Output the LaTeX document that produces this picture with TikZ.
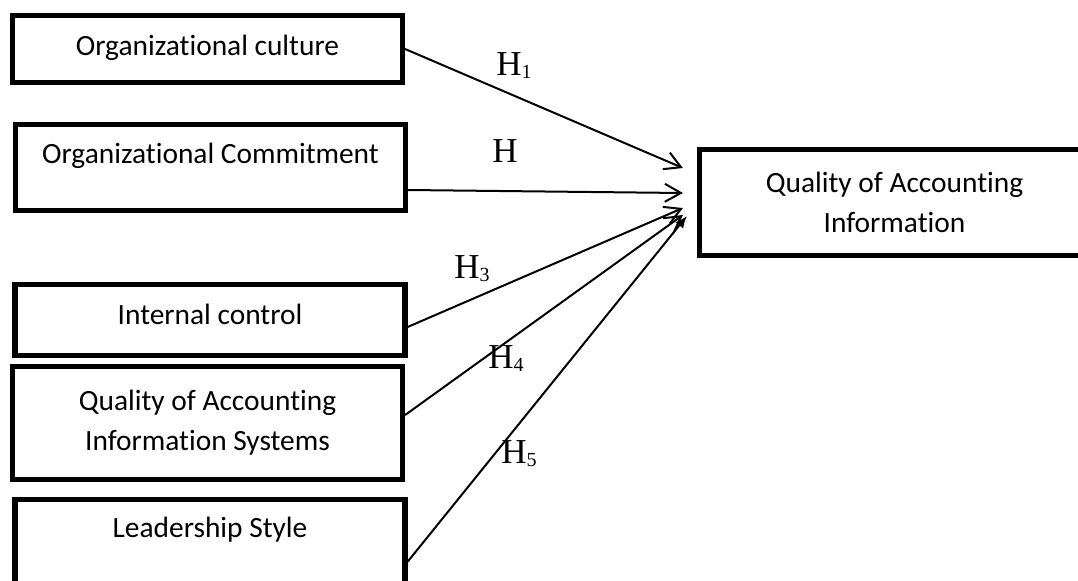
\documentclass[tikz,border=0pt]{standalone}
\usepackage{fontspec}
\setmainfont{Carlito}[Ligatures=NoCommon]
\newfontfamily\hypfont{Liberation Serif}
\usetikzlibrary{arrows.meta}
\tikzset{
  varbox/.style={draw, line width=2.6pt, minimum width=195pt, font=\fontsize{14.7}{20}\selectfont},
  onebox/.style={varbox, text height=11pt, text depth=3pt},
  twobox/.style={varbox, align=center},
  hyparrow/.style={-{Straight Barb[length=8pt, width=9pt]}, line width=1pt},
  hyparrowfill/.style={-{Latex[length=6pt, width=5pt]}, line width=1pt},
  hyplabel/.style={anchor=base west, inner sep=0pt, font=\hypfont\fontsize{17.5}{17.5}\selectfont}
}
\newcommand{\hyp}[1]{H\raisebox{-1.5pt}{\fontsize{10}{10}\selectfont #1}}

\begin{document}
\begin{tikzpicture}[x=0.5pt, y=-0.5pt]
  \clip (0,0) rectangle (1078,580);
  \fill[white] (0,0) rectangle (1078,580);
  % independent variables
  \node[onebox, minimum height=33.5pt, text depth=5pt] (culture) at (207.5,49) {Organizational culture};
  \node[onebox, minimum height=43pt, text depth=15pt] (commit) at (210.5,167.5) {Organizational Commitment};
  \node[onebox, minimum height=35.5pt, text depth=7pt] (control) at (210,320) {Internal control};
  \node[twobox, minimum height=56.5pt] (ais) at (207.5,423) {Quality of Accounting\\ Information Systems};
  \node[onebox, minimum height=60.25pt, text depth=33pt] (style) at (210,559.75) {Leadership Style};
  % dependent variable
  \node[twobox, minimum height=53pt] (quality) at (894.5,202.5) {Quality of Accounting\\ Information};
  % hypotheses
  \draw[hyparrow] (culture.east) -- ([xshift=-7pt, yshift=17.25pt]quality.west);
  \draw[hyparrow] ([yshift=-11.25pt]commit.east) -- ([xshift=-7pt, yshift=4.75pt]quality.west);
  \draw[hyparrow] ([yshift=-3.5pt]control.east) -- ([xshift=-7pt, yshift=-2.75pt]quality.west);
  \draw[hyparrow] ([yshift=4pt]ais.east) -- ([xshift=-7pt, yshift=-6.25pt]quality.west);
  \draw[hyparrowfill] ([yshift=-1pt]style.east) -- ([xshift=-5pt, yshift=-6.75pt]quality.west);
  \node[hyplabel] (h1) at (496,75) {\hyp{1}};
  \node[hyplabel] (h2) at (492,162) {H};
  \node[hyplabel] (h3) at (454,278) {\hyp{3}};
  \node[hyplabel] (h4) at (488,368) {\hyp{4}};
  \node[hyplabel] (h5) at (501,463) {\hyp{5}};
\end{tikzpicture}
\end{document}
